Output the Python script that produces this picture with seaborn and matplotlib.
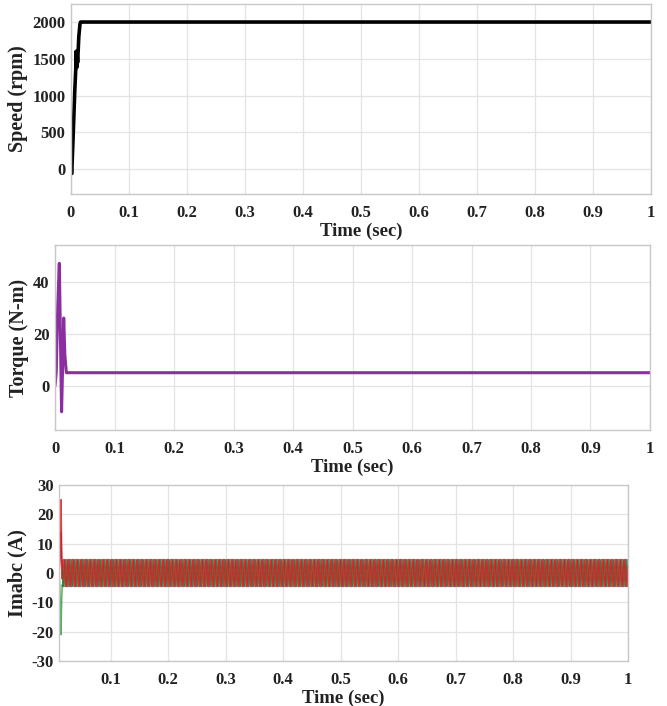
import numpy as np
import pandas as pd
import matplotlib
matplotlib.use("Agg")
import matplotlib.pyplot as plt
import seaborn as sns

# speed (rpm)
speed_t = [0.0, 0.0017, 0.0018, 0.004, 0.0065, 0.0085, 0.0088, 0.0091, 0.0094, 0.0097, 0.0100, 0.0103, 0.0106, 0.0115, 0.0135, 0.0155, 0.0165, 0.0175, 1.0]
speed_rpm = [-60, -60, 40, 500, 1050, 1400, 1600, 1380, 1600, 1380, 1600, 1400, 1560, 1450, 1800, 1970, 2000, 2000, 2000]

# torque (N-m)
torque_t = [0.0, 0.002, 0.0045, 0.0072, 0.009, 0.011, 0.0128, 0.0146, 0.0165, 0.019, 0.021, 1.0]
torque_nm = [0, 5, 30, 47, 20, -10, 8, 26, 12, 5, 5, 5]

# stator current transient (A), three phases
trans_t = [0.0100, 0.0115, 0.0125, 0.0135, 0.0145, 0.0155, 0.0165]
trans_a = [0, 6, 18, 25, 8, -2, 4.0]
trans_b = [0, 4, 10, 14, 5, 3, 0.6]
trans_c = [0, -5, -14, -21, -10, -4, -4.6]

# one steady-state period of phase a (A), 12 samples
period_a = [0, 2.3, 4.0, 4.6, 4.0, 2.3, 0, -2.3, -4.0, -4.6, -4.0, -2.3]
steady_period = 0.0075
steady_start = 0.0165

sns.set_theme(style="whitegrid")
plt.rcParams["font.family"] = ["Liberation Serif", "DejaVu Serif"]
plt.rcParams["font.weight"] = "bold"
plt.rcParams["axes.unicode_minus"] = False

fig = plt.figure(figsize=(6.67, 7.06), dpi=100)
ax1 = fig.add_axes([0.1064, 0.7252, 0.8696, 0.2691])
ax2 = fig.add_axes([0.0825, 0.3909, 0.8920, 0.2620])
ax3 = fig.add_axes([0.0885, 0.0637, 0.8530, 0.2493])

df_speed = pd.DataFrame({"t": speed_t, "v": speed_rpm})
sns.lineplot(data=df_speed, x="t", y="v", ax=ax1, color="black", linewidth=2.6,
             sort=False, estimator=None)
ax1.set_xlim(0, 1)
ax1.set_ylim(-340, 2245)
ax1.set_yticks([0, 500, 1000, 1500, 2000])
ax1.set_ylabel("Speed (rpm)")

df_torque = pd.DataFrame({"t": torque_t, "v": torque_nm})
sns.lineplot(data=df_torque, x="t", y="v", ax=ax2, color="#8B2FA0", linewidth=2.2,
             sort=False, estimator=None)
ax2.set_xlim(0, 1)
ax2.set_ylim(-17, 54)
ax2.set_yticks([0, 20, 40])
ax2.set_ylabel("Torque (N-m)")

# three-phase steady state built by repeating the sampled period
n_per = int((1.0 - steady_start) / steady_period) + 1
pa = np.array(period_a)
n = len(pa)
ia = np.tile(pa, n_per)
ib = np.tile(np.roll(pa, n // 3), n_per)
ic = np.tile(np.roll(pa, 2 * n // 3), n_per)
ts = steady_start + np.arange(len(ia)) * steady_period / n
keep = ts <= 1.0

cur_colors = {"a": "#E01818", "b": "#4A1A5E", "c": "#1A8A22"}
cur_alpha = {"a": 0.85, "b": 0.7, "c": 0.7}
for ph, tr, st in [("b", trans_b, ib), ("c", trans_c, ic), ("a", trans_a, ia)]:
    t_all = np.concatenate([trans_t, ts[keep][1:]])
    v_all = np.concatenate([tr, st[keep][1:]])
    df = pd.DataFrame({"t": t_all, "v": v_all})
    sns.lineplot(data=df, x="t", y="v", ax=ax3, color=cur_colors[ph], linewidth=1.1,
                 sort=False, estimator=None, alpha=cur_alpha[ph])
ax3.set_xlim(0.01, 1)
ax3.set_ylim(-30, 30)
ax3.set_yticks([-30, -20, -10, 0, 10, 20, 30])
ax3.set_xticks([0.1, 0.2, 0.3, 0.4, 0.5, 0.6, 0.7, 0.8, 0.9, 1])
ax3.set_xticklabels(["0.1", "0.2", "0.3", "0.4", "0.5", "0.6", "0.7", "0.8", "0.9", "1"])
ax3.set_ylabel("Imabc (A)")

for ax in (ax1, ax2):
    ax.set_xticks([0, 0.1, 0.2, 0.3, 0.4, 0.5, 0.6, 0.7, 0.8, 0.9, 1])
    ax.set_xticklabels(["0", "0.1", "0.2", "0.3", "0.4", "0.5", "0.6", "0.7", "0.8", "0.9", "1"])

for ax in (ax1, ax2, ax3):
    ax.set_facecolor("white")
    ax.grid(True, color="#E3E3E3", linewidth=0.9)
    for sp in ax.spines.values():
        sp.set_color("#C8C8C8")
        sp.set_linewidth(1.0)
    ax.tick_params(axis="y", length=0, pad=4, labelsize=12, labelcolor="#222222")
    ax.tick_params(axis="x", length=0, pad=8, labelsize=12, labelcolor="#222222")
    for lab in ax.get_xticklabels() + ax.get_yticklabels():
        lab.set_fontweight("bold")
    ax.set_xlabel("Time (sec)", fontsize=13.5, fontweight="bold", labelpad=1, color="#222222")
    ax.yaxis.label.set_fontsize(14.5)
    ax.yaxis.label.set_fontweight("bold")
    ax.yaxis.label.set_color("#222222")
    ax.yaxis.labelpad = 3

fig.savefig("out.png", dpi=100)
